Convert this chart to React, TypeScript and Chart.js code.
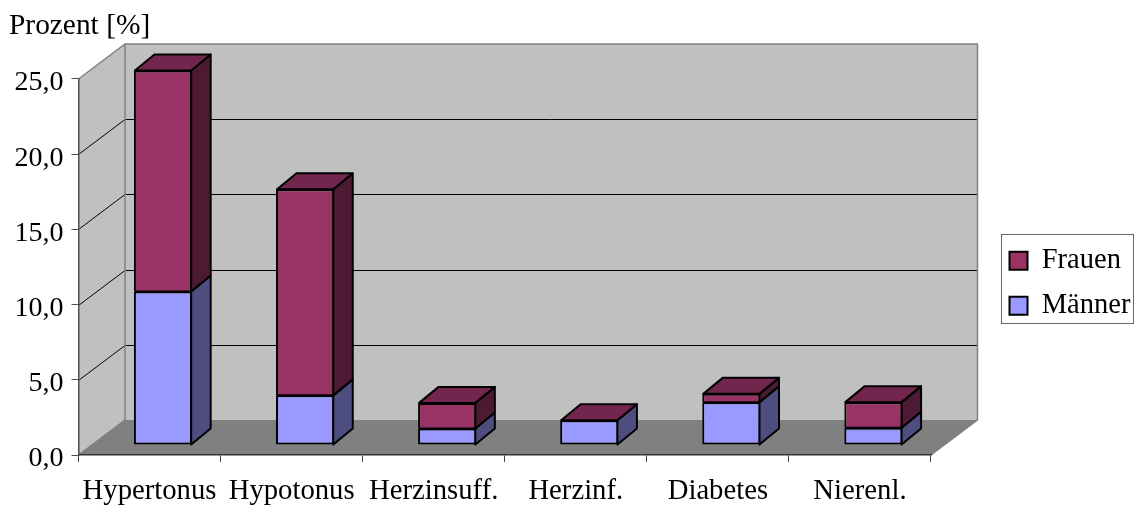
import React, { useEffect, useRef } from "react";
import { Chart, registerables } from "chart.js";

Chart.register(...registerables);

const categories = ["Hypertonus", "Hypotonus", "Herzinsuff.", "Herzinf.", "Diabetes", "Nierenl."];
const maenner = [10.2, 3.3, 1.1, 1.65, 2.85, 1.15];
const frauen = [14.7, 13.7, 1.7, 0, 0.55, 1.7];
const yTicksMax = 25;

const FONT = "'Liberation Serif', 'Times New Roman', serif";
const COLORS: Record<string, { front: string; side: string; top: string }> = {
  Männer: { front: "#9999ff", side: "#4d4d80", top: "#7373bf" },
  Frauen: { front: "#993366", side: "#4d1a33", top: "#73264d" },
};

const WALL_DX = 46.5;
const WALL_DY = 35;
const BAR_DX = 13.5;
const BAR_DY = -10;
const DEPTH_X = 19.5;
const DEPTH_Y = 16;
const LINE = 2;

const poly = (ctx: CanvasRenderingContext2D, pts: number[][], fill: string | null, stroke?: string, lw = 1) => {
  ctx.beginPath();
  pts.forEach((p, i) => (i ? ctx.lineTo(p[0], p[1]) : ctx.moveTo(p[0], p[1])));
  if (fill) {
    ctx.closePath();
    ctx.fillStyle = fill;
    ctx.fill();
  }
  if (stroke) {
    ctx.strokeStyle = stroke;
    ctx.lineWidth = lw;
    ctx.stroke();
  }
};

const scene3d = {
  id: "scene3d",
  afterLayout(chart: any) {
    const l = chart.legend;
    l.left = 993;
    l.right = 1135;
    l.width = 142;
    l.top = 230;
    l.bottom = 340;
    l.height = 110;
    const y = chart.scales.y;
    if (!y.__shifted) {
      y.__shifted = true;
      const orig = y.drawLabels.bind(y);
      y.drawLabels = (area: any) => {
        chart.ctx.save();
        chart.ctx.translate(0, 4);
        orig(area);
        chart.ctx.restore();
      };
    }
  },
  beforeDraw(chart: any) {
    const { ctx, chartArea: a, scales } = chart;
    const y0 = a.bottom;
    const yTop = scales.y.getPixelForValue(yTicksMax);
    ctx.save();
    poly(ctx, [[a.left, yTop], [a.left + WALL_DX, yTop - WALL_DY], [a.right + WALL_DX, yTop - WALL_DY], [a.right + WALL_DX, y0 - WALL_DY], [a.left + WALL_DX, y0 - WALL_DY], [a.left, y0]], "#c0c0c0");
    poly(ctx, [[a.left, y0], [a.left + WALL_DX, y0 - WALL_DY], [a.right + WALL_DX, y0 - WALL_DY], [a.right, y0]], "#808080");
    scales.y.ticks.forEach((t: any) => {
      if (t.value === 0 || t.value === yTicksMax) return;
      const py = Math.round(scales.y.getPixelForValue(t.value)) + 0.5;
      poly(ctx, [[a.left, py], [a.left + WALL_DX, py - WALL_DY], [a.right + WALL_DX, py - WALL_DY]], null, "#000", 1);
    });
    poly(ctx, [[a.left, yTop], [a.left + WALL_DX, yTop - WALL_DY], [a.right + WALL_DX, yTop - WALL_DY], [a.right + WALL_DX, y0 - WALL_DY], [a.right, y0]], null, "#808080", 1.5);
    poly(ctx, [[a.left + WALL_DX, yTop - WALL_DY], [a.left + WALL_DX, y0 - WALL_DY], [a.left, y0]], null, "#808080", 1.5);
    ctx.restore();
  },
  beforeDatasetsDraw(chart: any) {
    chart.ctx.save();
    chart.ctx.translate(BAR_DX, BAR_DY);
  },
  afterDatasetsDraw(chart: any) {
    const { ctx } = chart;
    ctx.lineJoin = "round";
    chart.data.datasets.forEach((ds: any, di: number) => {
      const c = COLORS[ds.label];
      chart.getDatasetMeta(di).data.forEach((el: any) => {
        const r = el.x + el.width / 2 - LINE / 2;
        const l = el.x - el.width / 2 + LINE / 2;
        const top = el.y;
        const base = el.base;
        if (base - top > 0.5) {
          poly(ctx, [[r, top], [r + DEPTH_X, top - DEPTH_Y], [r + DEPTH_X, base - DEPTH_Y], [r, base]], c.side, "#000", LINE);
          // seam / top edge of the front face
          poly(ctx, [[l, top], [r, top]], null, "#000", LINE);
        }
        if (di === chart.data.datasets.length - 1) {
          poly(ctx, [[l, top], [l + DEPTH_X, top - DEPTH_Y], [r + DEPTH_X, top - DEPTH_Y], [r, top]], c.top, "#000", LINE);
        }
      });
    });
    ctx.restore();
  },
  afterDraw(chart: any) {
    const { ctx } = chart;
    ctx.save();
    ctx.strokeStyle = "#666666";
    ctx.lineWidth = 1;
    ctx.strokeRect(1001.5, 234.5, 132, 89);
    ctx.restore();
  },
};

export default function App() {
  const ref = useRef<HTMLCanvasElement>(null);
  useEffect(() => {
    const chart = new Chart(ref.current!, {
      type: "bar",
      data: {
        labels: categories,
        datasets: [
          { label: "Männer", data: maenner, backgroundColor: COLORS["Männer"].front, borderColor: "#000", borderWidth: LINE, borderSkipped: false, clip: false as any },
          { label: "Frauen", data: frauen, backgroundColor: COLORS["Frauen"].front, borderColor: "#000", borderWidth: LINE, borderSkipped: "start", clip: false as any },
        ],
      },
      options: {
        animation: false,
        responsive: false,
        layout: { padding: { left: 9, right: 204, top: 0, bottom: 0 }, autoPadding: false },
        datasets: { bar: { categoryPercentage: 1, barPercentage: 0.41 } },
        plugins: {
          tooltip: { enabled: false },
          title: {
            display: true,
            text: "Prozent [%]",
            align: "start",
            color: "#000",
            font: { family: FONT, size: 29.4, weight: "normal", lineHeight: 1.2 },
            padding: { top: 9, bottom: 34.7 },
          },
          legend: {
            display: true,
            position: "chartArea",
            align: "start",
            labels: {
              color: "#000",
              font: { family: FONT, size: 28.5 },
              boxWidth: 18,
              boxHeight: 18,
              padding: 16.5,
              sort: (a: any, b: any) => b.datasetIndex - a.datasetIndex,
            },
          },
        },
        scales: {
          x: {
            stacked: true,
            afterFit: (s: any) => { s.height = 52; },
            border: { color: "#333333", width: 1.5 },
            grid: { drawOnChartArea: false, tickLength: 7, color: "#404040" },
            ticks: { color: "#000", font: { family: FONT, size: 28.7 }, autoSkip: false, maxRotation: 0, padding: 12 },
          },
          y: {
            stacked: true,
            min: 0,
            max: yTicksMax,
            afterFit: (s: any) => { s.width = 69.5; },
            border: { color: "#505050", width: 1.5 },
            grid: { drawOnChartArea: false, tickLength: 7, color: "#505050" },
            ticks: {
              stepSize: 5,
              color: "#000",
              font: { family: FONT, size: 28 },
              padding: 8,
              callback: (v: any) => Number(v).toFixed(1).replace(".", ","),
            },
          },
        },
      },
      plugins: [scene3d],
    } as any);
    return () => chart.destroy();
  }, []);
  return (
    <div style={{ position: "fixed", left: 0, top: 0, width: 1135, height: 507, background: "#fff" }}>
      <canvas ref={ref} width={1135} height={507} style={{ display: "block" }} />
    </div>
  );
}
